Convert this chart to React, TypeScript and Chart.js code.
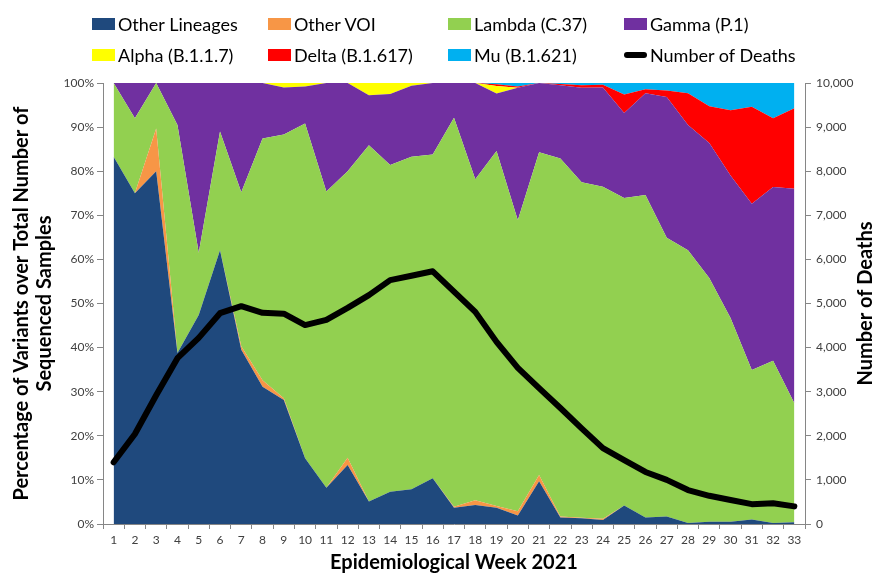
import React, { useEffect, useRef } from 'react';
import { Chart, registerables } from 'chart.js';

Chart.register(...registerables);

const WEEKS = ['1','2','3','4','5','6','7','8','9','10','11','12','13','14','15','16','17','18','19','20','21','22','23','24','25','26','27','28','29','30','31','32','33'];

const OTHER_LINEAGES = [83.3, 75, 80, 38.8, 47.4, 62.1, 39.5, 31.1, 28.1, 14.9, 8.2, 13.4, 5.1, 7.3, 7.9, 10.4, 3.7, 4.3, 3.7, 1.9, 9.7, 1.5, 1.3, 0.9, 4.2, 1.5, 1.7, 0.2, 0.5, 0.5, 1.0, 0.2, 0.4];
const OTHER_VOI = [0, 0, 9.7, 0, 0, 0, 0.8, 1.5, 0.4, 0, 0, 1.6, 0, 0, 0, 0, 0.2, 1.1, 0.4, 1.0, 1.4, 0.2, 0.1, 0.3, 0, 0, 0, 0, 0, 0, 0, 0, 0];
const LAMBDA = [16.7, 17, 10.3, 51.7, 14.1, 26.9, 34.9, 54.8, 59.8, 75.9, 67.2, 65, 80.8, 74.1, 75.4, 73.4, 88.2, 72.8, 80.5, 66, 73.2, 81.2, 76.1, 75.3, 69.7, 73.1, 63.2, 61.9, 55.3, 46.2, 33.9, 36.8, 27];
const GAMMA = [0, 8, 0, 9.5, 38.5, 11, 24.8, 12.6, 10.7, 8.4, 24.6, 20, 11.3, 16.1, 16.1, 16.2, 7.9, 21.8, 13, 30, 15.7, 16.6, 21.4, 22.5, 19.3, 23.1, 31.9, 28.4, 30.6, 32.3, 37.7, 39.4, 48.6];
const ALPHA = [0, 0, 0, 0, 0, 0, 0, 0, 1.0, 0.8, 0, 0, 2.8, 2.5, 0.6, 0, 0, 0, 1.7, 0, 0, 0, 0, 0, 0, 0, 0, 0, 0, 0, 0, 0, 0];
const DELTA = [0, 0, 0, 0, 0, 0, 0, 0, 0, 0, 0, 0, 0, 0, 0, 0, 0, 0, 0.4, 0.3, 0, 0.3, 0.6, 0.6, 4.2, 0.9, 1.5, 7.2, 8.3, 14.8, 22, 15.6, 18.3];
const MU = [0, 0, 0, 0, 0, 0, 0, 0, 0, 0, 0, 0, 0, 0, 0, 0, 0, 0, 0.3, 0.8, 0, 0.2, 0.5, 0.4, 2.6, 1.4, 1.7, 2.3, 5.3, 6.2, 5.4, 8, 5.7];
const DEATHS = [1400, 2040, 2920, 3760, 4220, 4780, 4940, 4790, 4770, 4510, 4630, 4900, 5190, 5530, 5630, 5730, 5270, 4810, 4130, 3540, 3080, 2630, 2170, 1720, 1450, 1180, 1000, 770, 640, 545, 450, 470, 400];

const SERIES_NAMES = ['Other Lineages', 'Other VOI', 'Lambda (C.37)', 'Gamma (P.1)', 'Alpha (B.1.1.7)', 'Delta (B.1.617)', 'Mu (B.1.621)'];
const SERIES_COLORS = ['#1F497D', '#F79646', '#92D050', '#7030A0', '#FFFF00', '#FF0000', '#00B0F0'];
const SERIES_DATA = [OTHER_LINEAGES, OTHER_VOI, LAMBDA, GAMMA, ALPHA, DELTA, MU];
const DEATHS_NAME = 'Number of Deaths';

const LEFT_TITLE = ['Percentage of Variants over Total Number of', 'Sequenced Samples'];
const RIGHT_TITLE = 'Number of Deaths';
const X_TITLE = 'Epidemiological Week 2021';

const FONT = 'Lato, "Open Sans", sans-serif';

const titlesPlugin = {
  id: 'customTitles',
  afterDraw(chart: any) {
    const ctx = chart.ctx;
    const ca = chart.chartArea;
    const cy = (ca.top + ca.bottom) / 2;
    ctx.save();
    ctx.fillStyle = '#000';
    ctx.font = `bold 20px ${FONT}`;
    ctx.textAlign = 'center';
    ctx.textBaseline = 'middle';
    ctx.save();
    ctx.translate(22, cy);
    ctx.rotate(-Math.PI / 2);
    ctx.fillText(LEFT_TITLE[0], 0, 0);
    ctx.fillText(LEFT_TITLE[1], 0, 23);
    ctx.restore();
    ctx.save();
    ctx.translate(866, cy);
    ctx.rotate(-Math.PI / 2);
    ctx.fillText(RIGHT_TITLE, 0, 0);
    ctx.restore();
    ctx.fillText(X_TITLE, (ca.left + ca.right) / 2, 563);
    ctx.restore();
  },
};

export default function App() {
  const canvasRef = useRef<HTMLCanvasElement | null>(null);

  useEffect(() => {
    document.body.style.margin = '0';
    const canvas = canvasRef.current;
    if (!canvas) return;
    const areaSets = SERIES_DATA.map((d, i) => ({
      type: 'line' as const,
      label: SERIES_NAMES[i],
      data: d,
      yAxisID: 'y',
      backgroundColor: SERIES_COLORS[i],
      borderColor: SERIES_COLORS[i],
      borderWidth: 0,
      pointRadius: 0,
      tension: 0,
      fill: i === 0 ? 'origin' : '-1',
    }));
    const chart = new Chart(canvas, {
      type: 'line',
      data: {
        labels: WEEKS,
        datasets: [
          {
            type: 'line',
            label: DEATHS_NAME,
            data: DEATHS,
            yAxisID: 'y1',
            borderColor: '#000',
            backgroundColor: '#000',
            borderWidth: 6,
            pointRadius: 0,
            tension: 0,
            fill: false,
            borderCapStyle: 'round',
            borderJoinStyle: 'round',
          } as any,
          ...areaSets,
        ],
      },
      options: {
        animation: false,
        responsive: false,
        maintainAspectRatio: false,
        devicePixelRatio: 1,
        layout: { padding: { top: 83, left: 0, right: 0, bottom: 0 } },
        plugins: {
          legend: { display: false },
          tooltip: { enabled: false },
        },
        scales: {
          x: {
            offset: true,
            grid: { offset: true, drawOnChartArea: false, tickLength: 5, color: '#868686' },
            border: { color: '#868686' },
            ticks: { autoSkip: false, maxRotation: 0, color: '#404040', font: { family: FONT, size: 12 }, padding: 4 },
            afterFit(scale: any) { scale.height = 53; },
          },
          y: {
            stacked: true,
            min: 0,
            max: 100,
            position: 'left',
            grid: { drawOnChartArea: false, tickLength: 6, color: '#868686' },
            border: { color: '#868686' },
            ticks: { stepSize: 10, color: '#404040', font: { family: FONT, size: 12 }, padding: 3, callback: (v: any) => `${v}%` },
            afterFit(scale: any) { scale.width = 103; },
          },
          y1: {
            stacked: false,
            min: 0,
            max: 10000,
            position: 'right',
            grid: { drawOnChartArea: false, tickLength: 6, color: '#868686' },
            border: { color: '#868686' },
            ticks: { stepSize: 1000, color: '#404040', font: { family: FONT, size: 12 }, padding: 5, callback: (v: any) => Number(v).toLocaleString('en-US') },
            afterFit(scale: any) { scale.width = 73; },
          },
        },
      },
      plugins: [titlesPlugin],
    });
    return () => chart.destroy();
  }, []);

  const legendItems = [
    { name: SERIES_NAMES[0], color: SERIES_COLORS[0], left: 92, top: 24 },
    { name: SERIES_NAMES[1], color: SERIES_COLORS[1], left: 268, top: 24 },
    { name: SERIES_NAMES[2], color: SERIES_COLORS[2], left: 448, top: 24 },
    { name: SERIES_NAMES[3], color: SERIES_COLORS[3], left: 624, top: 24 },
    { name: SERIES_NAMES[4], color: SERIES_COLORS[4], left: 92, top: 55 },
    { name: SERIES_NAMES[5], color: SERIES_COLORS[5], left: 268, top: 55 },
    { name: SERIES_NAMES[6], color: SERIES_COLORS[6], left: 448, top: 55 },
  ];

  return (
    <div style={{ position: 'relative', width: 878, height: 577, background: '#fff', fontFamily: FONT }}>
      <canvas ref={canvasRef} width={878} height={577} style={{ position: 'absolute', left: 0, top: 0 }} />
      {legendItems.map((it) => (
        <div key={it.name} style={{ position: 'absolute', left: it.left, top: it.top - 12, height: 24, display: 'flex', alignItems: 'center', whiteSpace: 'nowrap' }}>
          <span style={{ display: 'inline-block', width: 23, height: 12, background: it.color, marginRight: 3 }} />
          <span style={{ fontSize: 18, color: '#000' }}>{it.name}</span>
        </div>
      ))}
      <div style={{ position: 'absolute', left: 624, top: 55 - 12, height: 24, display: 'flex', alignItems: 'center', whiteSpace: 'nowrap' }}>
        <span style={{ display: 'inline-block', width: 23, height: 6, background: '#000', borderRadius: 3, marginRight: 3 }} />
        <span style={{ fontSize: 18, color: '#000' }}>{DEATHS_NAME}</span>
      </div>
    </div>
  );
}
